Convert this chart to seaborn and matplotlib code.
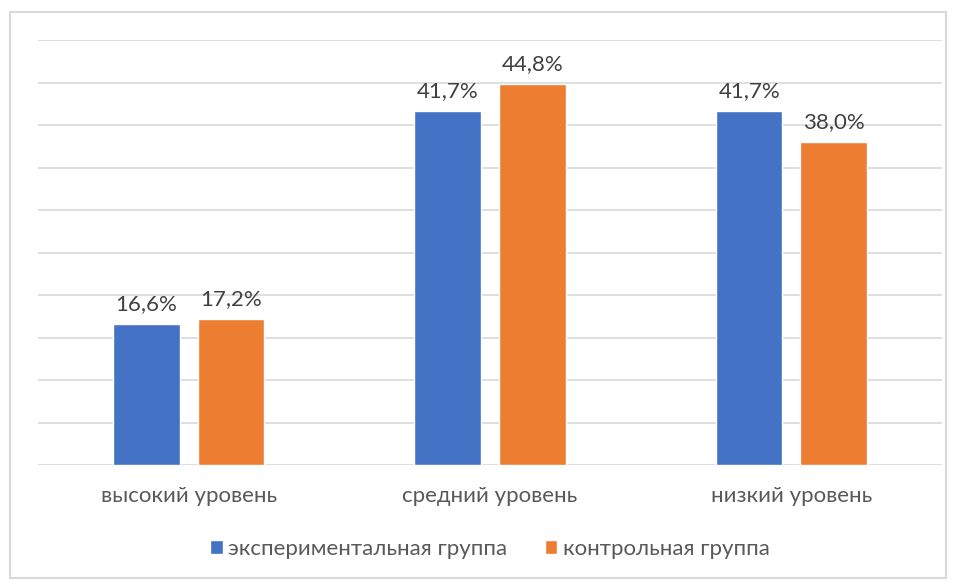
import matplotlib
matplotlib.use("Agg")
import matplotlib.pyplot as plt
import seaborn as sns
import pandas as pd
from matplotlib.patches import Rectangle

categories = ["высокий уровень", "средний уровень", "низкий уровень"]
series_names = ["экспериментальная группа", "контрольная группа"]
exp_values = [16.6, 41.7, 41.7]
ctrl_values = [17.2, 44.8, 38.0]
colors = ["#4472C4", "#ED7D31"]

rows = []
for c, v in zip(categories, exp_values):
    rows.append({"cat": c, "group": series_names[0], "val": v})
for c, v in zip(categories, ctrl_values):
    rows.append({"cat": c, "group": series_names[1], "val": v})
df = pd.DataFrame(rows)

sns.set_theme(style="white")
plt.rcParams["font.family"] = ["Lato", "DejaVu Sans"]

fig = plt.figure(figsize=(9.56, 5.8), dpi=100)
ax = fig.add_axes([38/956, 1-465/580, (942-38)/956, (465-40)/580])

sns.barplot(data=df, x="cat", y="val", hue="group", order=categories,
            hue_order=series_names, palette=colors, width=0.56, gap=0.21,
            saturation=1, ax=ax, legend=True, zorder=3)

ax.set_ylim(0, 50)
ax.set_xlim(-0.5, 2.5)
ax.set_yticks(range(0, 51, 5))
ax.yaxis.grid(True, color="#D9D9D9", linewidth=1.2, zorder=0)
ax.set_axisbelow(True)
ax.tick_params(axis="y", left=False, labelleft=False)
ax.tick_params(axis="x", bottom=False, labelsize=16, labelcolor="#595959", pad=9)
ax.set_xlabel("")
ax.set_ylabel("")
for s in ax.spines.values():
    s.set_visible(False)

for cont in ax.containers:
    ax.bar_label(cont, labels=[f"{v:.1f}%".replace(".", ",") for v in cont.datavalues],
                 padding=7, fontsize=16, color="#404040")

leg = ax.legend(loc="center", ncol=2, frameon=False, fontsize=16,
                handlelength=0.55, handleheight=0.55, handletextpad=0.25,
                columnspacing=1.7, labelcolor="#595959")
leg.set_bbox_to_anchor((0.5, -(549-465)/425), transform=ax.transAxes)

fig.patches.append(Rectangle((10/956, 1-578/580), 936/956, 566/580, transform=fig.transFigure,
                             fill=False, edgecolor="#D9D9D9", linewidth=1.5))

fig.savefig("out.png", dpi=100)
